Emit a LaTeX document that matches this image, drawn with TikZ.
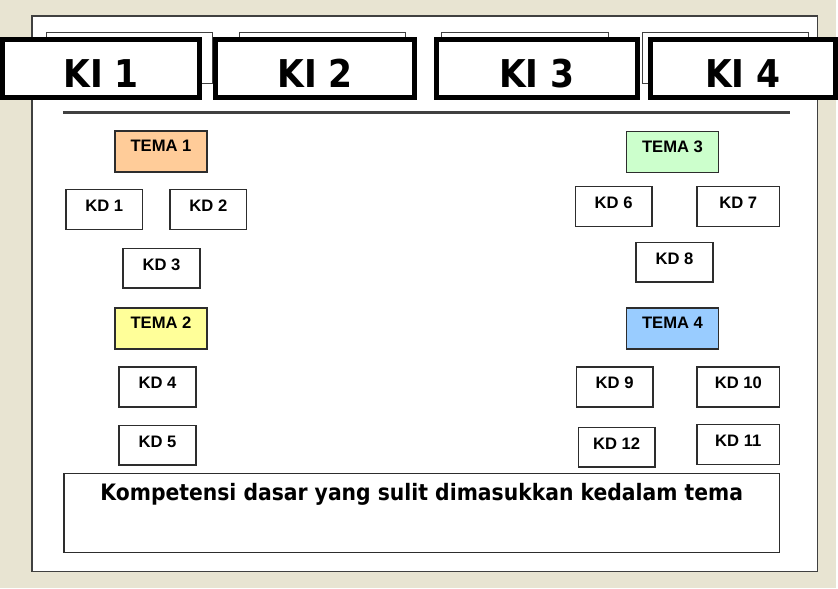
\documentclass[tikz,border=0pt]{standalone}
\usepackage{fontspec}
\setmainfont{Liberation Sans}
\newfontfamily\kifont{DejaVu Sans}[FakeStretch=0.9]

\definecolor{paper}{RGB}{232,228,210}
\definecolor{frame}{RGB}{64,64,64}
\definecolor{boxline}{RGB}{45,45,45}
\definecolor{tema1}{RGB}{255,204,153}
\definecolor{tema2}{RGB}{255,255,153}
\definecolor{tema3}{RGB}{204,255,204}
\definecolor{tema4}{RGB}{153,204,255}

\tikzset{
  kd/.style={draw=boxline, line width=1.1pt, fill=white, inner sep=0pt,
    minimum width=57.75pt, minimum height=30pt,
    text height=16.5pt, text depth=13.5pt,
    font=\fontsize{12.5}{15}\selectfont\bfseries},
  wide/.style={minimum width=62.25pt},
  tema/.style={kd, minimum width=69pt, minimum height=30.75pt,
    text height=15.4pt, text depth=15.35pt},
  ki/.style={draw=black, line width=3.75pt, fill=white, inner sep=0pt,
    minimum height=43.5pt, text height=36.4pt, text depth=7.1pt,
    font=\kifont\fontsize{28.8}{30}\selectfont\bfseries},
  backbox/.style={draw=frame, line width=0.8pt}
}

\begin{document}
\begin{tikzpicture}
  [x=0.75pt,y=-0.75pt]
  \fill[paper] (0,0) rectangle (838,590);
  \draw[frame, fill=white, line width=1.1pt] (32,16) rectangle (820,573);

  % header: thin boxes behind, KI boxes on top
  \foreach \a/\b in {47/213,240/407,443/610,644/811} {
    \draw[backbox] (\a,33) rectangle (\b,84);
  }
  \foreach \n/\x/\w in {1/101.5/148.5pt,2/316/149.25pt,3/538.5/151.5pt,4/745/139.5pt} {
    \node[ki, minimum width=\w] (ki\n) at (\x,68.5) {KI \n};
  }
  \draw[frame, line width=2.25pt] (63,113) -- (792,113);

  % left column
  \node[tema, fill=tema1] (t1) at (161.5,152) {TEMA 1};
  \node[kd] (kd1) at (104.5,210) {KD 1};
  \node[kd] (kd2) at (209,210) {KD 2};
  \node[kd] (kd3) at (162,269) {KD 3};
  \node[tema, fill=tema2] (t2) at (161.5,329.5) {TEMA 2};
  \node[kd] (kd4) at (158,388) {KD 4};
  \node[kd] (kd5) at (158,446.5) {KD 5};

  % right column
  \node[tema, fill=tema3] (t3) at (674.5,152.5) {TEMA 3};
  \node[kd] (kd6) at (615.5,207) {KD 6};
  \node[kd, wide] (kd7) at (740.5,207) {KD 7};
  \node[kd] (kd8) at (676.5,263) {KD 8};
  \node[tema, fill=tema4] (t4) at (674.5,329.5) {TEMA 4};
  \node[kd] (kd9) at (616.5,388) {KD 9};
  \node[kd, wide] (kd10) at (740.5,388) {KD 10};
  \node[kd] (kd12) at (618.5,448.5) {KD 12};
  \node[kd, wide] (kd11) at (740.5,446) {KD 11};

  \node[kd, minimum width=538.5pt, minimum height=59.25pt,
    text height=20.45pt, text depth=38.8pt,
    font=\kifont\fontsize{17}{20}\selectfont\bfseries] (sisa) at (423,514.5)
    {Kompetensi dasar yang sulit dimasukkan kedalam tema};
\end{tikzpicture}
\end{document}
